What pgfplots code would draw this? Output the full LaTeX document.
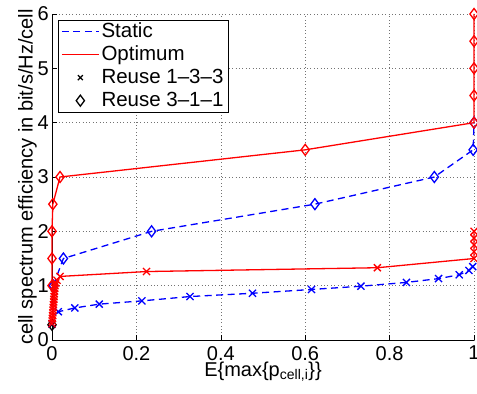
\documentclass[border=0pt]{standalone}
\usepackage{fontspec}
\setmainfont{Liberation Sans}
\usepackage{pgfplots}
\pgfplotsset{compat=1.18}
\definecolor{mblue}{rgb}{0,0,1}
\definecolor{mred}{rgb}{1,0,0}
\begin{document}
\begin{tikzpicture}[font=\fontsize{20bp}{24bp}\selectfont]
\begin{axis}[
  scale only axis, width=422bp, height=326bp,
  xmin=0, xmax=1, ymin=0, ymax=6,
  axis x line*=bottom, axis y line*=left,
  axis line style={black, line width=0.6bp},
  tick align=inside, major tick length=5bp,
  tick style={black, line width=0.6bp},
  xtick={0,0.2,0.4,0.6,0.8,1}, ytick={0,1,2,3,4,5,6},
  xticklabels={0,0.2,0.4,0.6,0.8,1}, yticklabels={0,1,2,3,4,5,6},
  /pgf/number format/assume math mode=true,
  x tick label style={inner sep=1bp, yshift=-5bp},
  y tick label style={inner sep=1bp, xshift=-2bp},
  grid=major,
  major grid style={black!55, line width=0.6bp, dash pattern=on 0.8bp off 2.6bp},
  clip=false,
  xlabel={E\{max\{p\textsubscript{cell,i}\}\}},
  xlabel style={at={(axis description cs:0.5,0)}, anchor=north, inner sep=0pt, yshift=-21.5bp},
  ylabel={cell spectrum efficiency in bit/s/Hz/cell},
  ylabel style={at={(axis description cs:0,0.5)}, anchor=south, inner sep=0pt, yshift=15bp},
  legend style={at={(rel axis cs:0.014,0.982)}, anchor=north west, draw=black, line width=0.6bp,
    fill=white, inner xsep=3bp, inner ysep=2bp, row sep=4bp,
    nodes={inner xsep=2bp, inner ysep=0bp, text height=15bp, text depth=4bp},
    font=\fontsize{20.5bp}{24bp}\selectfont},
  legend cell align=left,
  legend image code/.code={\draw[mark repeat=2,mark phase=2] plot coordinates {(0bp,0bp) (18.5bp,0bp) (37bp,0bp)};},
]
\coordinate (sw) at (rel axis cs:0,0);
\addlegendimage{mblue, line width=1.3bp, dash pattern=on 7bp off 4.5bp}
\addlegendentry{Static}
\addlegendimage{mred, line width=1.3bp}
\addlegendentry{Optimum}
\addlegendimage{only marks, black, mark=x, mark size=3.5bp, mark options={line width=1.3bp}}
\addlegendentry{Reuse 1--3--3}
\addlegendimage{only marks, black, mark=diamond, mark size=5.5bp, mark options={line width=1.3bp}}
\addlegendentry{Reuse 3--1--1}

% black dummy markers
\addplot[forget plot, only marks, black, mark=x, mark size=4.5bp, mark options={line width=1.3bp}] coordinates {(0,0.28)};
\addplot[forget plot, only marks, black, mark=diamond, mark size=5.5bp, mark options={line width=1.3bp}] coordinates {(0,0.28)};

% Static, reuse 1-3-3
\addplot[forget plot, mblue, line width=1.3bp, dash pattern=on 7bp off 4.5bp, mark=x, mark size=5bp, mark options={solid}] coordinates {
(0,0.3) (0.015,0.52) (0.054,0.59) (0.112,0.66) (0.213,0.72) (0.327,0.80) (0.475,0.86) (0.615,0.93)
(0.732,0.99) (0.840,1.06) (0.916,1.13) (0.965,1.20) (0.988,1.28) (0.997,1.35)};

% Static, reuse 3-1-1
\addplot[forget plot, mblue, line width=1.3bp, dash pattern=on 7bp off 4.5bp, mark=diamond, mark size=5.5bp, mark options={solid}] coordinates {
(0.003,1.0) (0.027,1.5) (0.236,2.0) (0.623,2.5) (0.906,3.0) (0.998,3.5) (1,4.0)};

% Optimum, reuse 1-3-3
\addplot[forget plot, mred, line width=1.3bp, mark=x, mark size=5bp] coordinates {
(0,0.3) (0.0005,0.35) (0.001,0.4) (0.0015,0.45) (0.002,0.5) (0.0025,0.55) (0.003,0.6) (0.0035,0.65)
(0.004,0.7) (0.0045,0.75) (0.005,0.8) (0.0055,0.85) (0.006,0.9) (0.0065,0.95) (0.007,1.0)
(0.009,1.05) (0.012,1.1) (0.019,1.17) (0.224,1.26) (0.771,1.33) (1,1.5) (1,1.625) (1,1.75) (1,1.875) (1,2.0)};

% Optimum, reuse 3-1-1
\addplot[forget plot, mred, line width=1.3bp, mark=diamond, mark size=5.5bp] coordinates {
(0,1.0) (0,1.5) (0,2.0) (0.002,2.5) (0.019,3.0) (0.6,3.5) (1,4.0) (1,4.5) (1,5.0) (1,5.5) (1,6.0)};
\end{axis}
\pgfresetboundingbox
\path (sw) ++(-52bp,-54bp) rectangle ++(477bp,394bp);
\end{tikzpicture}
\end{document}
